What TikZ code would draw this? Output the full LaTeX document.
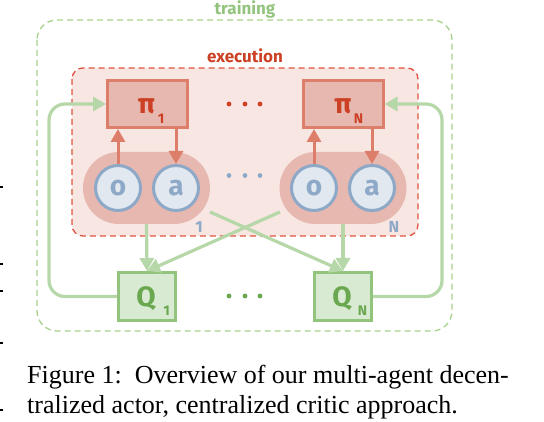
\documentclass[tikz,border=0pt]{standalone}
\usepackage{fontspec}
\setmainfont{Liberation Serif}
\newfontfamily\dfont{Fira Sans}
\usetikzlibrary{arrows.meta}
\definecolor{tgreen}{HTML}{93C47D}
\definecolor{tgreenl}{HTML}{A9D18E}
\definecolor{dgreen}{HTML}{6AA84F}
\definecolor{lgreen}{HTML}{B6D7A8}
\definecolor{qfill}{HTML}{D9EAD3}
\definecolor{ered}{HTML}{CC4125}
\definecolor{eborder}{HTML}{E0533F}
\definecolor{efill}{HTML}{F8E6E3}
\definecolor{pfill}{HTML}{E6B8AF}
\definecolor{pborder}{HTML}{DD7E6B}
\definecolor{cfill}{HTML}{E1E8EF}
\definecolor{cblue}{HTML}{8EA9C8}
\tikzset{
  lbl/.style={font=\dfont\bfseries\fontsize{17}{17}\selectfont, inner sep=0pt},
  pibox/.style={draw=pborder, fill=pfill, line width=3pt, minimum width=80pt, minimum height=47pt, inner sep=0pt},
  qbox/.style={draw=tgreen, fill=qfill, line width=3pt, minimum width=57pt, minimum height=48pt, inner sep=0pt},
  capsule/.style={fill=pfill, rounded corners=36pt, minimum width=127pt, minimum height=72pt, inner sep=0pt},
  circ/.style={circle, draw=cblue, fill=cfill, line width=3pt, minimum size=45pt, inner sep=0pt,
     text=cblue, font=\dfont\bfseries\fontsize{28}{28}\selectfont},
  bigsym/.style={inner sep=0pt, font=\dfont\bfseries\fontsize{28}{28}\selectfont},
  subsym/.style={inner sep=0pt, font=\dfont\bfseries\fontsize{14}{14}\selectfont},
  redarr/.style={draw=pborder, line width=3pt, -{Triangle[length=13pt,width=14pt]}},
  grnarr/.style={draw=lgreen, line width=3.2pt, -{Triangle[length=13pt,width=14pt]}},
  dotr/.style={circle, inner sep=0pt, minimum size=4.8pt},
}
\begin{document}
\begin{tikzpicture}[x=1pt,y=-1pt]
\useasboundingbox (0,0) rectangle (544,422);
% training box
\draw[tgreenl, dash pattern=on 6pt off 4pt, line width=1.3pt, rounded corners=20pt] (37,20) rectangle (452,331);
\node[lbl, text=tgreen] (train) at (245,9) {training};
% execution box
\draw[eborder, fill=efill, dash pattern=on 6pt off 4pt, line width=1.3pt, rounded corners=11pt] (72,68) rectangle (418,236);
\node[lbl, text=ered] (exec) at (245,56) {execution};
% capsules
\node[capsule] (cap1) at (146.5,188) {};
\node[capsule] (capN) at (343,188) {};
\node[circ] (o1) at (118,188) {o};
\node[circ] (a1) at (176,188) {a};
\node[circ] (oN) at (314,188) {o};
\node[circ] (aN) at (372,188) {a};
\node[inner sep=0pt, text=cblue, font=\dfont\bfseries\fontsize{16}{16}\selectfont] (l1) at (199,227) {1};
\node[inner sep=0pt, text=cblue, font=\dfont\bfseries\fontsize{16}{16}\selectfont] (lN) at (394,227) {N};
% policy boxes
\node[pibox] (pi1) at (147.5,104) {};
\node[pibox] (piN) at (343,104) {};
\node[bigsym, text=ered] (pis1) at (146.5,106) {π};
\node[subsym, text=ered] (pisub1) at (161,118.5) {1};
\node[bigsym, text=ered] (pisN) at (343,106) {π};
\node[subsym, text=ered] (pisubN) at (358.5,119) {N};
% Q boxes
\node[qbox] (q1) at (147,296.5) {};
\node[qbox] (qN) at (343,296.5) {};
\node[bigsym, text=dgreen] (qs1) at (146,299) {Q};
\node[subsym, text=dgreen] (qsub1) at (166.5,310.5) {1};
\node[bigsym, text=dgreen] (qsN) at (342,299) {Q};
\node[subsym, text=dgreen] (qsubN) at (362.5,310.5) {N};
% dots
\foreach \x/\n in {229/a,245/b,260/c}{
  \node[dotr, fill=ered] (dp\n) at (\x,104) {};
  \node[dotr, fill=cblue] (dc\n) at (\x,175.5) {};
  \node[dotr, fill=dgreen] (dq\n) at (\x,296) {};
}
% red arrows
\draw[redarr] (o1.north) -- (o1.north |- pi1.south);
\draw[redarr] (a1.north |- pi1.south) -- (a1.north);
\draw[redarr] (oN.north) -- (oN.north |- piN.south);
\draw[redarr] (aN.north |- piN.south) -- (aN.north);
% green arrows
\coordinate (c1) at (210,212);
\coordinate (cN) at (280,212);
\draw[grnarr] (cap1.south) -- (q1.north);
\draw[grnarr] (capN.south) -- (qN.north);
\draw[grnarr] (c1) -- (qN.north);
\draw[grnarr] (cN) -- (q1.north);
% feedback loops
\draw[grnarr, rounded corners=16pt] (q1.west) -- (49,296.5) -- (49,104) -- (pi1.west);
\draw[grnarr, rounded corners=16pt] (qN.east) -- (442,296.5) -- (442,104) -- (piN.east);
% caption
\node[anchor=base west, inner sep=0pt, font=\fontsize{26}{26}\selectfont] (cap1t) at (27,383) {Figure 1:\ \ Overview of our multi-agent decen-};
\node[anchor=base west, inner sep=0pt, font=\fontsize{26}{26}\selectfont] (cap2t) at (27,413) {tralized actor, centralized critic approach.};
% margin marks
\foreach \yy in {187,264,291,343,410}{
  \fill (0,\yy-1) rectangle (2.5,\yy+1);
}
\end{tikzpicture}
\end{document}
